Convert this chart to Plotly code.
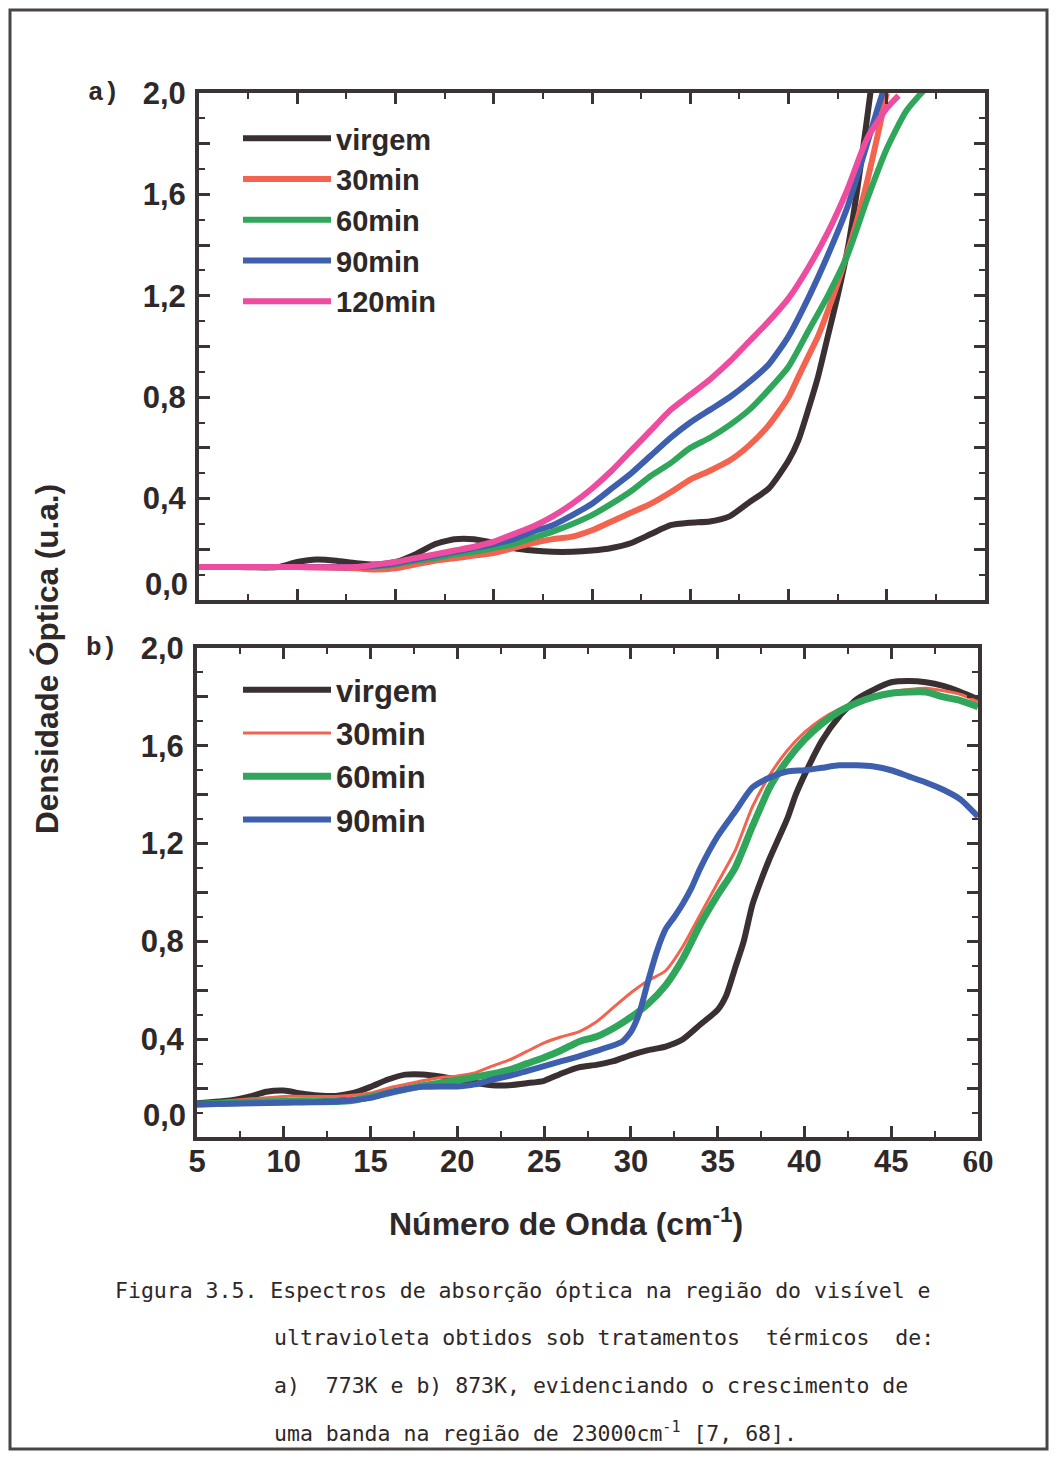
import plotly.graph_objects as go

# The page body keeps its default 8px margin, so the figure is sized to fit the window exactly.
OFF = 8
W, H = 1057 - 2 * OFF, 1460 - 2 * OFF

# ---------------- data: panel a) (773K) ----------------
a_virgem_x = [5, 7, 9, 10, 11, 12, 13, 14, 15, 16, 17, 18, 19, 20, 21, 22, 23, 24, 25, 26, 27, 28, 29, 30,
              31, 32, 33, 34, 35, 35.5, 36, 36.5, 37, 37.5, 38, 38.5, 39, 39.5]
a_virgem_y = [0.13, 0.13, 0.13, 0.15, 0.16, 0.155, 0.145, 0.14, 0.15, 0.18, 0.22, 0.24, 0.24, 0.225, 0.205,
              0.195, 0.19, 0.19, 0.195, 0.205, 0.225, 0.26, 0.295, 0.305, 0.31, 0.33, 0.385, 0.44, 0.55,
              0.63, 0.75, 0.88, 1.04, 1.20, 1.38, 1.62, 1.90, 2.2]

a_30_x = [5, 10, 13, 14, 15, 16, 17, 18, 19, 20, 21, 22, 23, 24, 25, 26, 27, 28, 29, 30, 31, 32, 33, 34, 35,
          35.5, 36, 36.5, 37, 37.5, 38, 38.5, 39, 39.5, 40]
a_30_y = [0.13, 0.13, 0.125, 0.12, 0.125, 0.14, 0.155, 0.165, 0.175, 0.185, 0.205, 0.225, 0.24, 0.25, 0.275,
          0.31, 0.345, 0.38, 0.425, 0.475, 0.51, 0.55, 0.61, 0.69, 0.80, 0.88, 0.96, 1.04, 1.14, 1.25, 1.37,
          1.50, 1.65, 1.82, 2.0]

a_60_x = [5, 10, 13, 14, 15, 16, 17, 18, 19, 20, 21, 22, 23, 24, 25, 26, 27, 28, 29, 30, 31, 32, 33, 34, 35,
          36, 37, 38, 39, 40, 41, 42]
a_60_y = [0.13, 0.13, 0.13, 0.133, 0.14, 0.155, 0.165, 0.18, 0.19, 0.205, 0.22, 0.245, 0.27, 0.30, 0.335, 0.38,
          0.43, 0.49, 0.54, 0.60, 0.64, 0.69, 0.75, 0.83, 0.92, 1.06, 1.20, 1.36, 1.58, 1.78, 1.93, 2.02]

a_90_x = [5, 10, 13, 14, 15, 16, 17, 18, 19, 20, 21, 22, 23, 24, 25, 26, 27, 28, 29, 30, 31, 32, 33, 34, 35,
          36, 37, 38, 39, 39.5, 40]
a_90_y = [0.13, 0.13, 0.13, 0.135, 0.145, 0.16, 0.175, 0.19, 0.205, 0.22, 0.24, 0.27, 0.295, 0.335, 0.38, 0.44,
          0.50, 0.57, 0.64, 0.70, 0.75, 0.80, 0.86, 0.93, 1.04, 1.19, 1.36, 1.55, 1.80, 1.93, 2.05]

a_120_x = [5, 10, 13, 14, 15, 16, 17, 18, 19, 20, 21, 22, 23, 24, 25, 26, 27, 28, 29, 30, 31, 32, 33, 34, 35,
           36, 37, 38, 39, 40, 40.6]
a_120_y = [0.13, 0.13, 0.13, 0.14, 0.15, 0.165, 0.18, 0.195, 0.21, 0.23, 0.26, 0.29, 0.33, 0.38, 0.44, 0.51,
           0.59, 0.67, 0.75, 0.81, 0.87, 0.94, 1.02, 1.10, 1.19, 1.31, 1.45, 1.62, 1.82, 1.94, 1.99]

# ---------------- data: panel b) (873K) ----------------
b_virgem_x = [5, 7, 8, 9, 10, 11, 12, 13, 14, 15, 16, 17, 18, 19, 20, 21, 22, 23, 24, 25, 26, 27, 28, 29, 30,
              31, 32, 33, 34, 35, 35.5, 36, 36.5, 37, 37.5, 38, 38.5, 39, 39.5, 40, 41, 42, 43, 44, 45, 46, 47,
              48, 49, 50]
b_virgem_y = [0.138, 0.15, 0.165, 0.185, 0.19, 0.178, 0.17, 0.168, 0.18, 0.205, 0.235, 0.255, 0.256, 0.248,
              0.235, 0.222, 0.212, 0.212, 0.22, 0.23, 0.26, 0.285, 0.295, 0.31, 0.335, 0.355, 0.37, 0.40, 0.46,
              0.52, 0.58, 0.69, 0.80, 0.95, 1.05, 1.14, 1.22, 1.30, 1.40, 1.48, 1.62, 1.72, 1.79, 1.83, 1.86,
              1.865, 1.86, 1.845, 1.82, 1.79]

b_30_x = [5, 8, 10, 13, 15, 16, 17, 18, 19, 20, 21, 22, 23, 24, 25, 26, 27, 28, 29, 30, 31, 32, 33, 34, 35,
          36, 37, 38, 39, 40, 41, 42, 43, 44, 45, 46, 47, 48, 49, 50]
b_30_y = [0.138, 0.155, 0.166, 0.166, 0.18, 0.20, 0.215, 0.23, 0.242, 0.25, 0.262, 0.29, 0.315, 0.35, 0.385,
          0.41, 0.43, 0.47, 0.53, 0.59, 0.64, 0.68, 0.78, 0.91, 1.04, 1.17, 1.35, 1.48, 1.58, 1.655, 1.71,
          1.75, 1.78, 1.80, 1.82, 1.83, 1.835, 1.825, 1.81, 1.78]

b_60_x = [5, 8, 10, 13, 14, 15, 16, 17, 18, 19, 20, 21, 22, 23, 24, 25, 26, 27, 28, 29, 30, 31, 32, 33, 34,
          35, 36, 37, 38, 39, 40, 41, 42, 43, 44, 45, 46, 47, 48, 49, 50]
b_60_y = [0.134, 0.142, 0.145, 0.145, 0.15, 0.165, 0.18, 0.195, 0.21, 0.22, 0.232, 0.245, 0.258, 0.275, 0.30,
          0.325, 0.355, 0.39, 0.41, 0.445, 0.49, 0.545, 0.62, 0.73, 0.87, 0.99, 1.10, 1.27, 1.43, 1.54, 1.625,
          1.69, 1.74, 1.775, 1.80, 1.815, 1.82, 1.82, 1.80, 1.785, 1.76]

b_90_x = [5, 10, 13, 15, 16, 17, 18, 19, 20, 21, 22, 23, 24, 25, 26, 27, 28, 29, 29.5, 30, 30.5, 31, 31.5, 32,
          32.5, 33, 33.5, 34, 35, 36, 37, 38, 39, 40, 41, 42, 43, 44, 45, 46, 47, 48, 49, 50]
b_90_y = [0.134, 0.14, 0.145, 0.16, 0.18, 0.195, 0.205, 0.207, 0.207, 0.215, 0.235, 0.25, 0.27, 0.29, 0.31,
          0.33, 0.352, 0.375, 0.39, 0.43, 0.51, 0.64, 0.76, 0.85, 0.90, 0.955, 1.02, 1.10, 1.23, 1.33, 1.43,
          1.47, 1.495, 1.50, 1.51, 1.52, 1.52, 1.515, 1.50, 1.475, 1.45, 1.42, 1.38, 1.31]

series_names_a = ["virgem", "30min", "60min", "90min", "120min"]
series_names_b = ["virgem", "30min", "60min", "90min"]

y_tick_vals = [0.2, 0.4, 0.6, 0.8, 1.0, 1.2, 1.4, 1.6, 1.8, 2.0]
y_tick_text = ["", "0,4", "", "0,8", "", "1,2", "", "1,6", "", "2,0"]
x_tick_vals = [5, 10, 15, 20, 25, 30, 35, 40, 45, 50]
x_tick_text = ["5", "10", "15", "20", "25", "30", "35", "40", "45",
               "<span style=\"font-family:'Liberation Serif',serif\">60</span>"]

# ---------------- styles ----------------
C_BLACK = "#3b3031"
C_RED = "#f2644f"
C_GREEN = "#30a65b"
C_BLUE = "#3d5fae"
C_PINK = "#ee4c9f"
AX = "#3a3434"
TXT = "#2e2828"

colors_a = [C_BLACK, C_RED, C_GREEN, C_BLUE, C_PINK]
colors_b = [C_BLACK, C_RED, C_GREEN, C_BLUE]
widths_a = [6, 6, 6, 6, 6]
widths_b = [6, 3, 7, 6]

fig = go.Figure()

a_data = [(a_virgem_x, a_virgem_y), (a_30_x, a_30_y), (a_60_x, a_60_y), (a_90_x, a_90_y), (a_120_x, a_120_y)]
for (xs, ys), name, col, w in zip(a_data, series_names_a, colors_a, widths_a):
    fig.add_trace(go.Scatter(x=xs, y=ys, name=name, mode="lines",
                             line=dict(color=col, width=w, shape="spline", smoothing=0.6),
                             xaxis="x", yaxis="y", legend="legend"))

b_data = [(b_virgem_x, b_virgem_y), (b_30_x, b_30_y), (b_60_x, b_60_y), (b_90_x, b_90_y)]
for (xs, ys), name, col, w in zip(b_data, series_names_b, colors_b, widths_b):
    fig.add_trace(go.Scatter(x=xs, y=ys, name=name, mode="lines",
                             line=dict(color=col, width=w, shape="spline", smoothing=0.6),
                             xaxis="x2", yaxis="y2", legend="legend2"))


def px_x(p):
    """window pixel -> paper fraction"""
    return (p - OFF) / W


def px_y(p):
    return 1 - (p - OFF) / H


SANS = "Liberation Sans, Arial, sans-serif"
tick_font = dict(family=SANS, size=31, color=TXT, weight="bold")

yaxis_common = dict(range=[0, 2.0], tickmode="array", tickvals=y_tick_vals, ticktext=y_tick_text,
                    ticks="inside", ticklen=11, tickwidth=2.5, tickcolor=AX,
                    showline=True, linewidth=4, linecolor=AX, mirror="allticks", automargin=False,
                    showgrid=False, zeroline=False, tickfont=tick_font, ticklabelstandoff=3,
                    minor=dict(dtick=0.1, tick0=0, ticks="inside", ticklen=6, tickwidth=2, tickcolor=AX))

xaxis_common = dict(range=[5, 50], tickmode="array", tickvals=x_tick_vals, ticktext=x_tick_text,
                    ticks="inside", ticklen=11, tickwidth=2.5, tickcolor=AX,
                    showline=True, linewidth=4, linecolor=AX, mirror="allticks", automargin=False,
                    showgrid=False, zeroline=False,
                    minor=dict(dtick=2.5, tick0=5, ticks="inside", ticklen=6, tickwidth=2, tickcolor=AX))

fig.update_layout(
    width=W, height=H, autosize=False,
    margin=dict(l=0, r=0, t=0, b=0, pad=0, autoexpand=False),
    paper_bgcolor="white", plot_bgcolor="white",
    xaxis=dict(xaxis_common, domain=[px_x(199), px_x(985)], range=[5, 45], anchor="y",
               showticklabels=False),
    yaxis=dict(yaxis_common, domain=[px_y(600), px_y(93)], anchor="x"),
    xaxis2=dict(xaxis_common, domain=[px_x(197), px_x(978)], anchor="y2",
                tickfont=dict(family=SANS, size=31, color=TXT, weight="bold"),
                ticklabelstandoff=-6),
    yaxis2=dict(yaxis_common, domain=[px_y(1137), px_y(648)], anchor="x2"),
    legend=dict(x=px_x(238), y=px_y(113), xanchor="left", yanchor="top",
                bgcolor="rgba(0,0,0,0)", itemwidth=88, tracegroupgap=0,
                font=dict(family=SANS, size=29, color=TXT, weight="bold")),
    legend2=dict(x=px_x(238), y=px_y(663), xanchor="left", yanchor="top",
                 bgcolor="rgba(0,0,0,0)", itemwidth=88, tracegroupgap=0,
                 font=dict(family=SANS, size=31, color=TXT, weight="bold")),
    showlegend=True,
)

anns = []
# "0,0" tick labels
anns.append(dict(text="0,0", x=0, xref="x domain", y=0.06, yref="y", xanchor="right", yanchor="middle",
                 xshift=-9, showarrow=False, font=tick_font))
anns.append(dict(text="0,0", x=0, xref="x2 domain", y=0.09, yref="y2", xanchor="right", yanchor="middle",
                 xshift=-9, showarrow=False, font=tick_font))
# panel labels
mono = dict(family="Liberation Mono, Courier New, monospace", size=26, color=TXT, weight="bold")
anns.append(dict(text="a)", x=px_x(86), y=px_y(93), xref="paper", yref="paper", xanchor="left",
                 yanchor="middle", showarrow=False, font=mono))
anns.append(dict(text="b)", x=px_x(84), y=px_y(648), xref="paper", yref="paper", xanchor="left",
                 yanchor="middle", showarrow=False, font=mono))
# axis titles
anns.append(dict(text="Densidade Óptica (u.a.)", x=px_x(47), y=px_y(659), xref="paper", yref="paper",
                 textangle=-90, xanchor="center", yanchor="middle", showarrow=False,
                 font=dict(family=SANS, size=31.5, color=TXT, weight="bold")))
anns.append(dict(text="Número de Onda (cm<sup>-1</sup>)", x=px_x(566), y=px_y(1222), xref="paper",
                 yref="paper", xanchor="center", yanchor="middle", showarrow=False,
                 font=dict(family=SANS, size=32, color=TXT, weight="bold")))
# caption
cap_font = dict(family="DejaVu Sans Mono, monospace", size=21.5, color=TXT)
caption = [
    ("Figura 3.5. Espectros de absorção óptica na região do visível e", 113, 1290),
    ("ultravioleta obtidos sob tratamentos  térmicos  de:", 272, 1337),
    ("a)  773K e b) 873K, evidenciando o crescimento de", 272, 1385),
    ("uma banda na região de 23000cm<sup>-1</sup> [7, 68].", 272, 1432),
]
for txt, xx, yy in caption:
    anns.append(dict(text=txt, x=px_x(xx), y=px_y(yy), xref="paper", yref="paper", xanchor="left",
                     yanchor="middle", showarrow=False, font=cap_font))
fig.update_layout(annotations=anns)

# page border of the scanned sheet
fig.add_shape(type="rect", xref="paper", yref="paper", x0=px_x(10), x1=px_x(1047), y0=px_y(1449), y1=px_y(10),
              line=dict(color="#4a4444", width=3), fillcolor="rgba(0,0,0,0)", layer="below")

fig.write_html("out.html")
